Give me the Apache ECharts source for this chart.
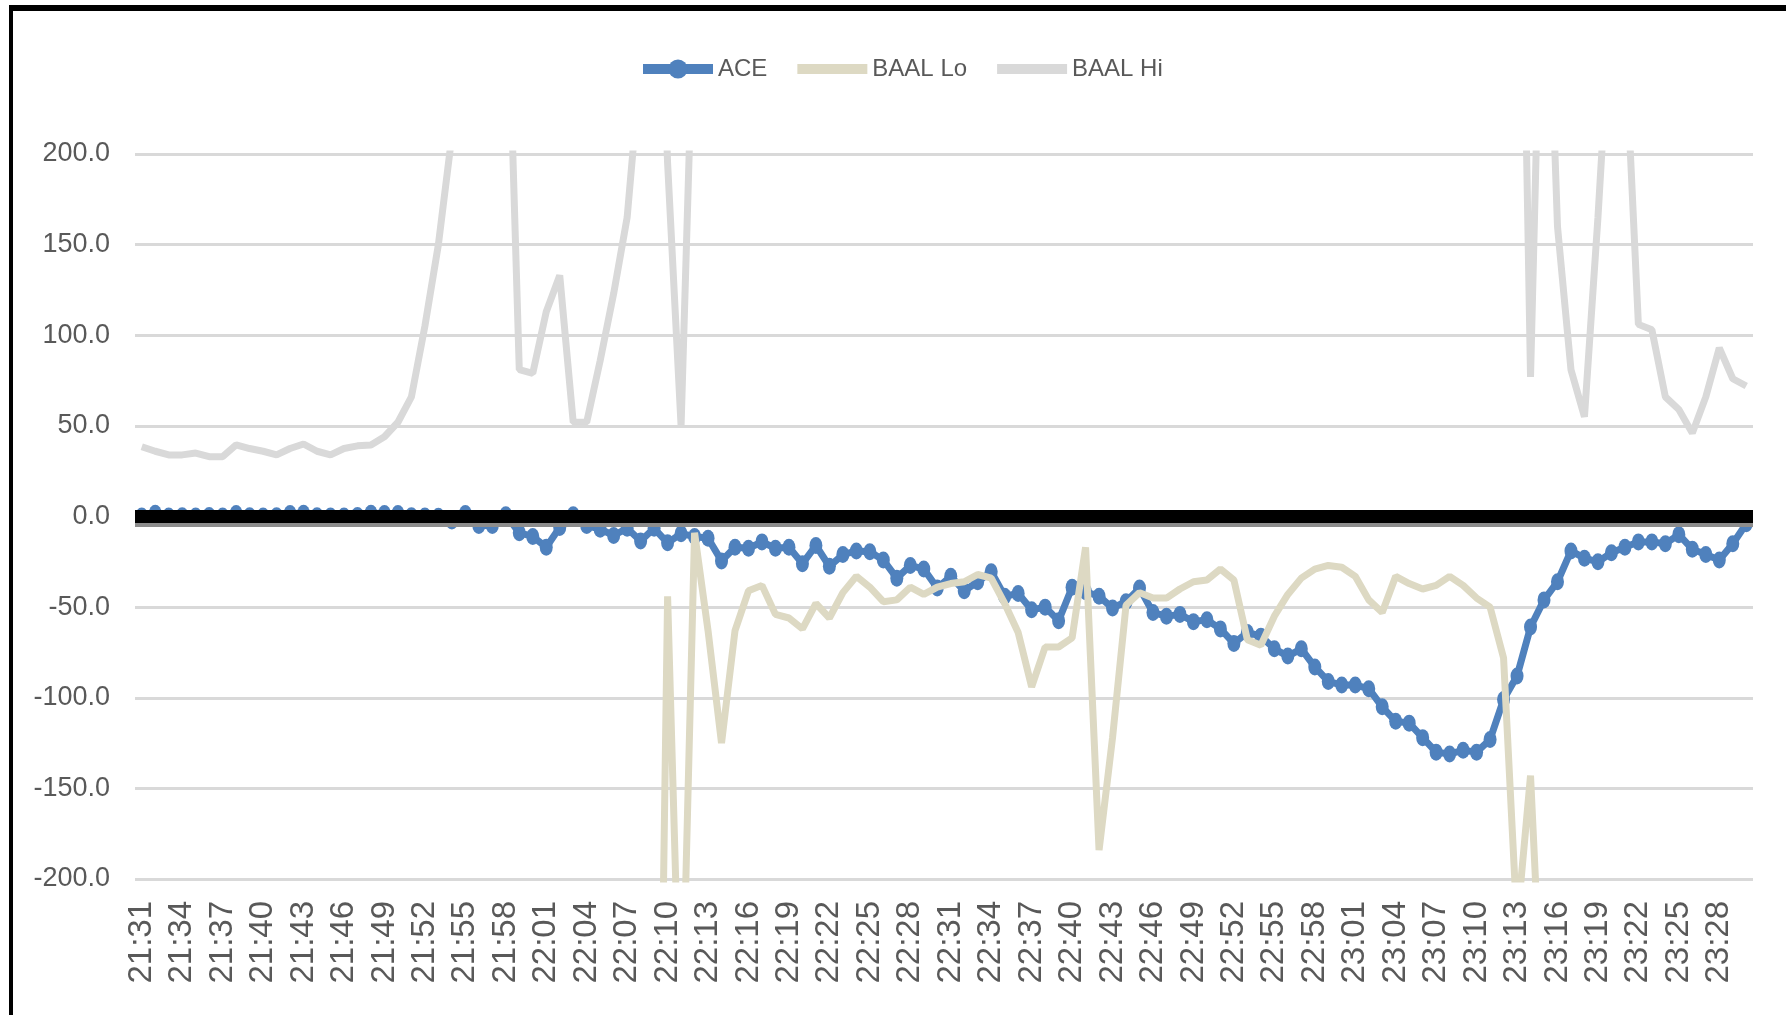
<!DOCTYPE html>
<html>
<head>
<meta charset="utf-8">
<title>ACE / BAAL</title>
<script src="https://cdn.jsdelivr.net/npm/echarts@6/dist/echarts.min.js"></script>
<style>
  html, body { margin: 0; padding: 0; background: #fff; }
  #chart { width: 1786px; height: 1015px; }
</style>
</head>
<body>
<div id="chart"></div>
<script>
// One sample per minute, 21:31 to 23:30
const times = [
  "21:31","21:32","21:33","21:34","21:35","21:36","21:37","21:38","21:39","21:40",
  "21:41","21:42","21:43","21:44","21:45","21:46","21:47","21:48","21:49","21:50",
  "21:51","21:52","21:53","21:54","21:55","21:56","21:57","21:58","21:59","22:00",
  "22:01","22:02","22:03","22:04","22:05","22:06","22:07","22:08","22:09","22:10",
  "22:11","22:12","22:13","22:14","22:15","22:16","22:17","22:18","22:19","22:20",
  "22:21","22:22","22:23","22:24","22:25","22:26","22:27","22:28","22:29","22:30",
  "22:31","22:32","22:33","22:34","22:35","22:36","22:37","22:38","22:39","22:40",
  "22:41","22:42","22:43","22:44","22:45","22:46","22:47","22:48","22:49","22:50",
  "22:51","22:52","22:53","22:54","22:55","22:56","22:57","22:58","22:59","23:00",
  "23:01","23:02","23:03","23:04","23:05","23:06","23:07","23:08","23:09","23:10",
  "23:11","23:12","23:13","23:14","23:15","23:16","23:17","23:18","23:19","23:20",
  "23:21","23:22","23:23","23:24","23:25","23:26","23:27","23:28","23:29","23:30"
];

// ACE magnetometer trace
const ace = [
  0.3, 1.8, 0.3, 0.4, 0.3, 0.5, 0.3, 1.7, 0.4, 0.3,
  0.4, 1.6, 1.8, 0.4, 0.3, 0.3, 0.5, 1.8, 1.7, 1.6,
  0.4, 0.3, 0.2, -2.5, 1.7, -5, -5, 1, -9, -11,
  -17, -6, 1, -5, -7, -10.5, -6.5, -13.5, -6.5, -14.5,
  -9.5, -11, -12, -24.5, -17, -17.5, -14, -17.5, -17, -26,
  -16, -27.5, -21, -19, -19.5, -24, -34, -27, -29, -39.5,
  -33, -41, -36, -30.5, -44, -42.5, -51.5, -50, -57.5, -39,
  -41.5, -44, -50.5, -47, -39.5, -53, -55, -54, -58, -57,
  -62, -70, -64, -66, -73, -77, -73, -83, -91, -93,
  -93, -95, -105, -113, -114, -122, -130, -131, -129, -130,
  -123, -101, -88, -61, -46, -36, -19, -23, -25, -20,
  -17, -14, -14, -15, -10, -18, -21, -24, -15, -4
];

// Lower BAAL threshold (null where no value is drawn)
const baalLo = [
  null, null, null, null, null, null, null, null, null, null,
  null, null, null, null, null, null, null, null, null, null,
  null, null, null, null, null, null, null, null, null, null,
  null, null, null, null, null, null, null, null, -570, -44,
  -305, -9, -63, -125, -63, -41, -38, -54, -56, -62,
  -48, -56, -42, -33, -39, -47, -46, -39, -43, -39,
  -37, -36, -32, -34, -48, -64, -94, -72, -72, -67,
  -17, -184, -122, -49, -42, -45, -45, -40, -36, -35,
  -29, -35, -68, -71, -55, -43, -34, -29, -27, -28,
  -33, -46, -53, -33, -37, -40, -38, -33, -38, -45,
  -50, -78, -225, -143, -300, null, null, null, null, null,
  null, null, null, null, null, null, null, null, null, null
];

// Upper BAAL threshold (null where no value is drawn)
const baalHi = [
  38.5, 36, 34, 34, 35, 33, 33, 39.5, 37.5, 36,
  34, 37.5, 40, 36, 34, 37.5, 39, 39.5, 44, 52,
  66, 105, 150, 210, 260, 300, 320, 330, 81, 79,
  113, 133, 52, 52, 86, 123, 165, 250, 400, 195,
  50, 300, null, null, null, null, null, null, null, null,
  null, null, null, null, null, null, null, null, null, null,
  null, null, null, null, null, null, null, null, null, null,
  null, null, null, null, null, null, null, null, null, null,
  null, null, null, null, null, null, null, null, null, null,
  null, null, null, null, null, null, null, null, null, null,
  null, 500, 500, 77, 375, 160, 81, 55, 165, 290,
  265, 106, 103, 66, 59, 46, 66, 93, 76, 72
];

const yTicks = { min: -200, max: 200, step: 50 };

const font = "'Liberation Sans', Arial, sans-serif";
const textGrey = '#595959';

const chart = echarts.init(document.getElementById('chart'), null, { renderer: 'canvas' });

chart.setOption({
  backgroundColor: '#ffffff',
  animation: false,
  graphic: [
    { type: 'rect', shape: { x: 9, y: 5, width: 1777, height: 6 }, style: { fill: '#000' }, silent: true },
    { type: 'rect', shape: { x: 9, y: 5, width: 4, height: 1010 }, style: { fill: '#000' }, silent: true }
  ],
  legend: {
    left: 633,
    top: 52,
    itemWidth: 70,
    itemHeight: 24,
    itemGap: 25,
    lineStyle: { width: 10 },
    textStyle: { fontFamily: font, fontSize: 24, color: textGrey },
    data: [
      'ACE',
      // threshold lines show no marker
      { name: 'BAAL Lo', itemStyle: { opacity: 0 } },
      { name: 'BAAL Hi', itemStyle: { opacity: 0 } }
    ]
  },
  grid: { left: 135, right: 33, top: 154, bottom: 136, containLabel: false },
  xAxis: [
    {
      type: 'category',
      data: times,
      boundaryGap: true,
      position: 'bottom',
      axisLine: { show: false, onZero: false },
      axisTick: { show: false },
      splitLine: { show: false },
      axisLabel: {
        interval: 2,
        rotate: 90,
        margin: 22,
        fontFamily: font,
        fontSize: 33,
        color: textGrey
      }
    },
    {
      // heavy zero line drawn over the series
      type: 'category',
      data: times,
      boundaryGap: true,
      z: 5,
      axisLine: {
        show: true,
        onZero: true,
        lineStyle: {
          color: '#000',
          width: 13,
          cap: 'butt',
          shadowColor: '#8c8c8c',
          shadowOffsetY: 4,
          shadowBlur: 0
        }
      },
      axisTick: { show: false },
      axisLabel: { show: false },
      splitLine: { show: false }
    }
  ],
  yAxis: {
    type: 'value',
    min: yTicks.min,
    max: yTicks.max,
    interval: yTicks.step,
    axisLine: { show: false },
    axisTick: { show: false },
    splitLine: { lineStyle: { color: '#d9d9d9', width: 3 } },
    axisLabel: {
      margin: 25,
      fontFamily: font,
      fontSize: 27,
      color: textGrey,
      formatter: v => v.toFixed(1)
    }
  },
  series: [
    {
      name: 'ACE',
      type: 'line',
      xAxisIndex: 0,
      data: ace,
      symbol: 'circle',
      symbolSize: [13, 17],
      showAllSymbol: true,
      itemStyle: { color: '#4f81bd' },
      lineStyle: { color: '#4f81bd', width: 7 },
      z: 2
    },
    {
      name: 'BAAL Lo',
      type: 'line',
      xAxisIndex: 0,
      data: baalLo,
      showSymbol: false,
      symbol: 'none',
      connectNulls: false,
      itemStyle: { color: '#ddd9c3' },
      lineStyle: { color: '#ddd9c3', width: 7 },
      z: 3
    },
    {
      name: 'BAAL Hi',
      type: 'line',
      xAxisIndex: 0,
      data: baalHi,
      showSymbol: false,
      symbol: 'none',
      connectNulls: false,
      itemStyle: { color: '#d9d9d9' },
      lineStyle: { color: '#d9d9d9', width: 7 },
      z: 4
    }
  ]
});
</script>
</body>
</html>
